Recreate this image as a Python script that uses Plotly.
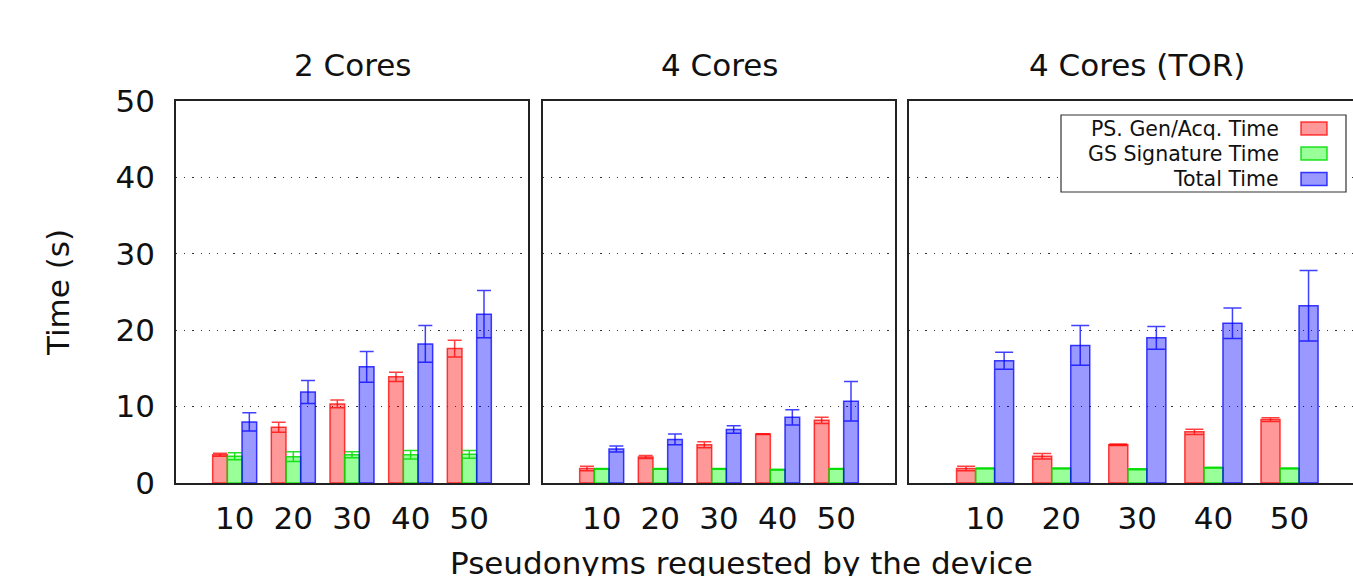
import plotly.graph_objects as go

W, H = 1353, 576
FONT = "DejaVu Sans"

categories = ["10", "20", "30", "40", "50"]
panel_titles = ["2 Cores", "4 Cores", "4 Cores (TOR)"]
series_names = ["PS. Gen/Acq. Time", "GS Signature Time", "Total Time"]

# 2 Cores
c2_gen = [3.7, 7.3, 10.35, 13.9, 17.6]
c2_gen_err = [0.2, 0.65, 0.5, 0.6, 1.1]
c2_gs = [3.5, 3.45, 3.7, 3.7, 3.75]
c2_gs_err = [0.45, 0.65, 0.4, 0.55, 0.5]
c2_tot = [8.0, 11.9, 15.2, 18.2, 22.1]
c2_tot_err = [1.2, 1.5, 2.0, 2.4, 3.1]

# 4 Cores
c4_gen = [1.9, 3.4, 5.0, 6.4, 8.2]
c4_gen_err = [0.3, 0.2, 0.4, 0.05, 0.4]
c4_gs = [1.85, 1.85, 1.85, 1.75, 1.85]
c4_gs_err = [0.05, 0.05, 0.05, 0.05, 0.05]
c4_tot = [4.45, 5.7, 7.0, 8.6, 10.7]
c4_tot_err = [0.4, 0.7, 0.5, 1.0, 2.6]

# 4 Cores (TOR)
tor_gen = [1.9, 3.5, 5.0, 6.7, 8.3]
tor_gen_err = [0.3, 0.35, 0.1, 0.35, 0.25]
tor_gs = [1.9, 1.9, 1.8, 2.0, 1.9]
tor_gs_err = [0.05, 0.05, 0.05, 0.05, 0.05]
tor_tot = [16.0, 18.0, 19.0, 20.9, 23.2]
tor_tot_err = [1.1, 2.6, 1.5, 2.0, 4.6]

y_ticks = [0, 10, 20, 30, 40, 50]

panels = [
    [(c2_gen, c2_gen_err), (c2_gs, c2_gs_err), (c2_tot, c2_tot_err)],
    [(c4_gen, c4_gen_err), (c4_gs, c4_gs_err), (c4_tot, c4_tot_err)],
    [(tor_gen, tor_gen_err), (tor_gs, tor_gs_err), (tor_tot, tor_tot_err)],
]

fills = ["rgba(255,0,0,0.4)", "rgba(0,255,0,0.4)", "rgba(0,0,255,0.4)"]
lines = ["rgba(255,0,0,0.75)", "rgba(0,220,0,0.85)", "rgba(0,0,255,0.75)"]

# pixel layout
px_left = [176, 543, 909]
px_right = [528, 895, 1353]
x_ranges = [[-1, 5], [-1, 5], [-1, 4.834]]
y_bot_px, y_top_px = 483, 101
cap_w = [7, 7, 9]

fig = go.Figure()
for p, series in enumerate(panels):
    xa = "x" if p == 0 else f"x{p+1}"
    ya = "y" if p == 0 else f"y{p+1}"
    for s, (vals, errs) in enumerate(series):
        fig.add_trace(go.Bar(
            x=categories, y=vals, name=series_names[s],
            xaxis=xa, yaxis=ya, showlegend=False,
            marker=dict(color=fills[s], line=dict(color=lines[s], width=1.5)),
            error_y=dict(type="data", array=errs, visible=True,
                         color=lines[s], thickness=1.5, width=cap_w[p]),
        ))

layout = dict(
    width=W, height=H,
    margin=dict(l=0, r=0, t=0, b=0, autoexpand=False),
    paper_bgcolor="white", plot_bgcolor="white",
    barmode="group", bargap=0.25, bargroupgap=0.0,
    font=dict(family=FONT, size=31, color="#111"),
    showlegend=False,
)

ydom = [(H - y_bot_px) / H, (H - y_top_px) / H]
for p in range(3):
    xk = "xaxis" if p == 0 else f"xaxis{p+1}"
    yk = "yaxis" if p == 0 else f"yaxis{p+1}"
    layout[xk] = dict(
        domain=[px_left[p] / W, px_right[p] / W],
        anchor="y" if p == 0 else f"y{p+1}",
        type="category", range=x_ranges[p], automargin=False,
        showline=True, mirror=True, linecolor="#222", linewidth=1.5,
        ticks="", ticklabelstandoff=7,
        tickfont=dict(family=FONT, size=31, color="#111"),
        showgrid=False, zeroline=False, fixedrange=True,
    )
    layout[yk] = dict(
        domain=ydom,
        anchor="x" if p == 0 else f"x{p+1}",
        range=[0, 50], tickvals=y_ticks, automargin=False,
        showticklabels=(p == 0),
        showline=True, mirror=(p < 2), linecolor="#222", linewidth=1.5,
        ticks="", ticklabelstandoff=13,
        tickfont=dict(family=FONT, size=31, color="#111"),
        showgrid=True, gridcolor="#333", gridwidth=1, griddash="1.2px,7px",
        zeroline=False, fixedrange=True,
    )

annotations = []
for p in range(3):
    annotations.append(dict(
        text=panel_titles[p], xref="paper", yref="paper",
        x=(px_left[p] + (px_right[p] if p < 2 else 1365)) / 2 / W,
        y=(H - 65) / H, xanchor="center", yanchor="middle", showarrow=False,
        font=dict(family=FONT, size=31, color="#111"),
    ))
annotations.append(dict(
    text="Time (s)", xref="paper", yref="paper", x=58 / W, y=(H - 293) / H,
    xanchor="center", yanchor="middle", textangle=-90, showarrow=False,
    font=dict(family=FONT, size=31, color="#111"),
))
annotations.append(dict(
    text="Pseudonyms requested by the device", xref="paper", yref="paper",
    x=741 / W, y=(H - 563) / H, xanchor="center", yanchor="middle",
    showarrow=False, font=dict(family=FONT, size=31, color="#111"),
))

# legend (drawn manually: text right-aligned, swatch on the right)
shapes = [dict(type="rect", xref="paper", yref="paper",
               x0=1061 / W, x1=1346 / W, y0=(H - 192) / H, y1=(H - 115) / H,
               line=dict(color="#333", width=1.2), fillcolor="white", layer="above")]
row_y = [128.5, 153.5, 179.0]
for s in range(3):
    annotations.append(dict(
        text=series_names[s], xref="paper", yref="paper",
        x=1281 / W, y=(H - row_y[s]) / H, xanchor="right", yanchor="middle",
        showarrow=False, font=dict(family=FONT, size=20.5, color="#111"),
    ))
    shapes.append(dict(type="rect", xref="paper", yref="paper",
                       x0=1301 / W, x1=1327 / W,
                       y0=(H - row_y[s] - 6.5) / H, y1=(H - row_y[s] + 6.5) / H,
                       line=dict(color=lines[s], width=1.5), fillcolor=fills[s],
                       layer="above"))

layout["annotations"] = annotations
layout["shapes"] = shapes
fig.update_layout(**layout)

fig.write_html("out.html", config={"displayModeBar": False})
